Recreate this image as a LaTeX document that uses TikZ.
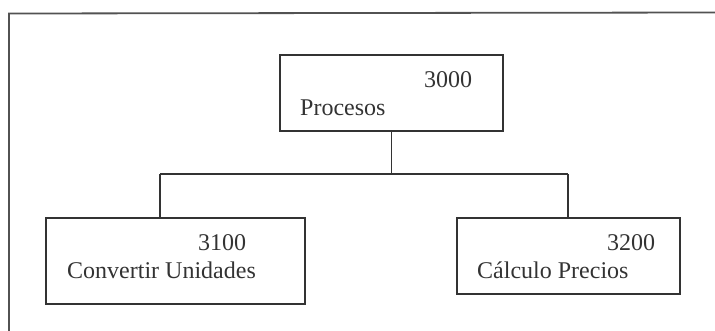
\documentclass[tikz,border=0pt]{standalone}
\usepackage{fontspec}
\setmainfont{Liberation Serif}
\definecolor{ink}{HTML}{333333}
\tikzset{
  box/.style={draw=ink, line width=1.6pt, rectangle, inner sep=0pt, anchor=north west},
  lbl/.style={text=ink, anchor=base west, inner sep=0pt, font=\fontsize{24}{27}\selectfont},
  conn/.style={draw=ink, line width=1.6pt},
  frame/.style={draw=ink!85, line width=1.8pt}
}
\begin{document}
\begin{tikzpicture}[x=1pt,y=-1pt]
\useasboundingbox (0,0) rectangle (715,330);
\draw[frame] (9,331) -- (9,13.5) -- (716,12.5);
% boxes
\node[box, minimum width=223pt, minimum height=76pt] (top) at (279,54) {};
\node[box, minimum width=259pt, minimum height=86pt] (left) at (45,217) {};
\node[box, minimum width=223pt, minimum height=76pt] (right) at (456,217) {};
% labels
\node[lbl] (t1) at (424,87) {3000};
\node[lbl] (t2) at (300,115) {Procesos};
\node[lbl] (l1) at (198,250) {3100};
\node[lbl] (l2) at (67,278) {Convertir Unidades};
\node[lbl] (r1) at (607,250) {3200};
\node[lbl] (r2) at (477,278) {Cálculo Precios};
% connectors
\coordinate (jl) at (160,174);
\coordinate (jr) at (568,174);
\draw[conn] (top.south) -- (top.south |- jl);
\draw[conn] (jl) -- (jr);
\draw[conn] (jl) -- (jl |- left.north);
\draw[conn] (jr) -- (jr |- right.north);
\end{tikzpicture}
\end{document}
